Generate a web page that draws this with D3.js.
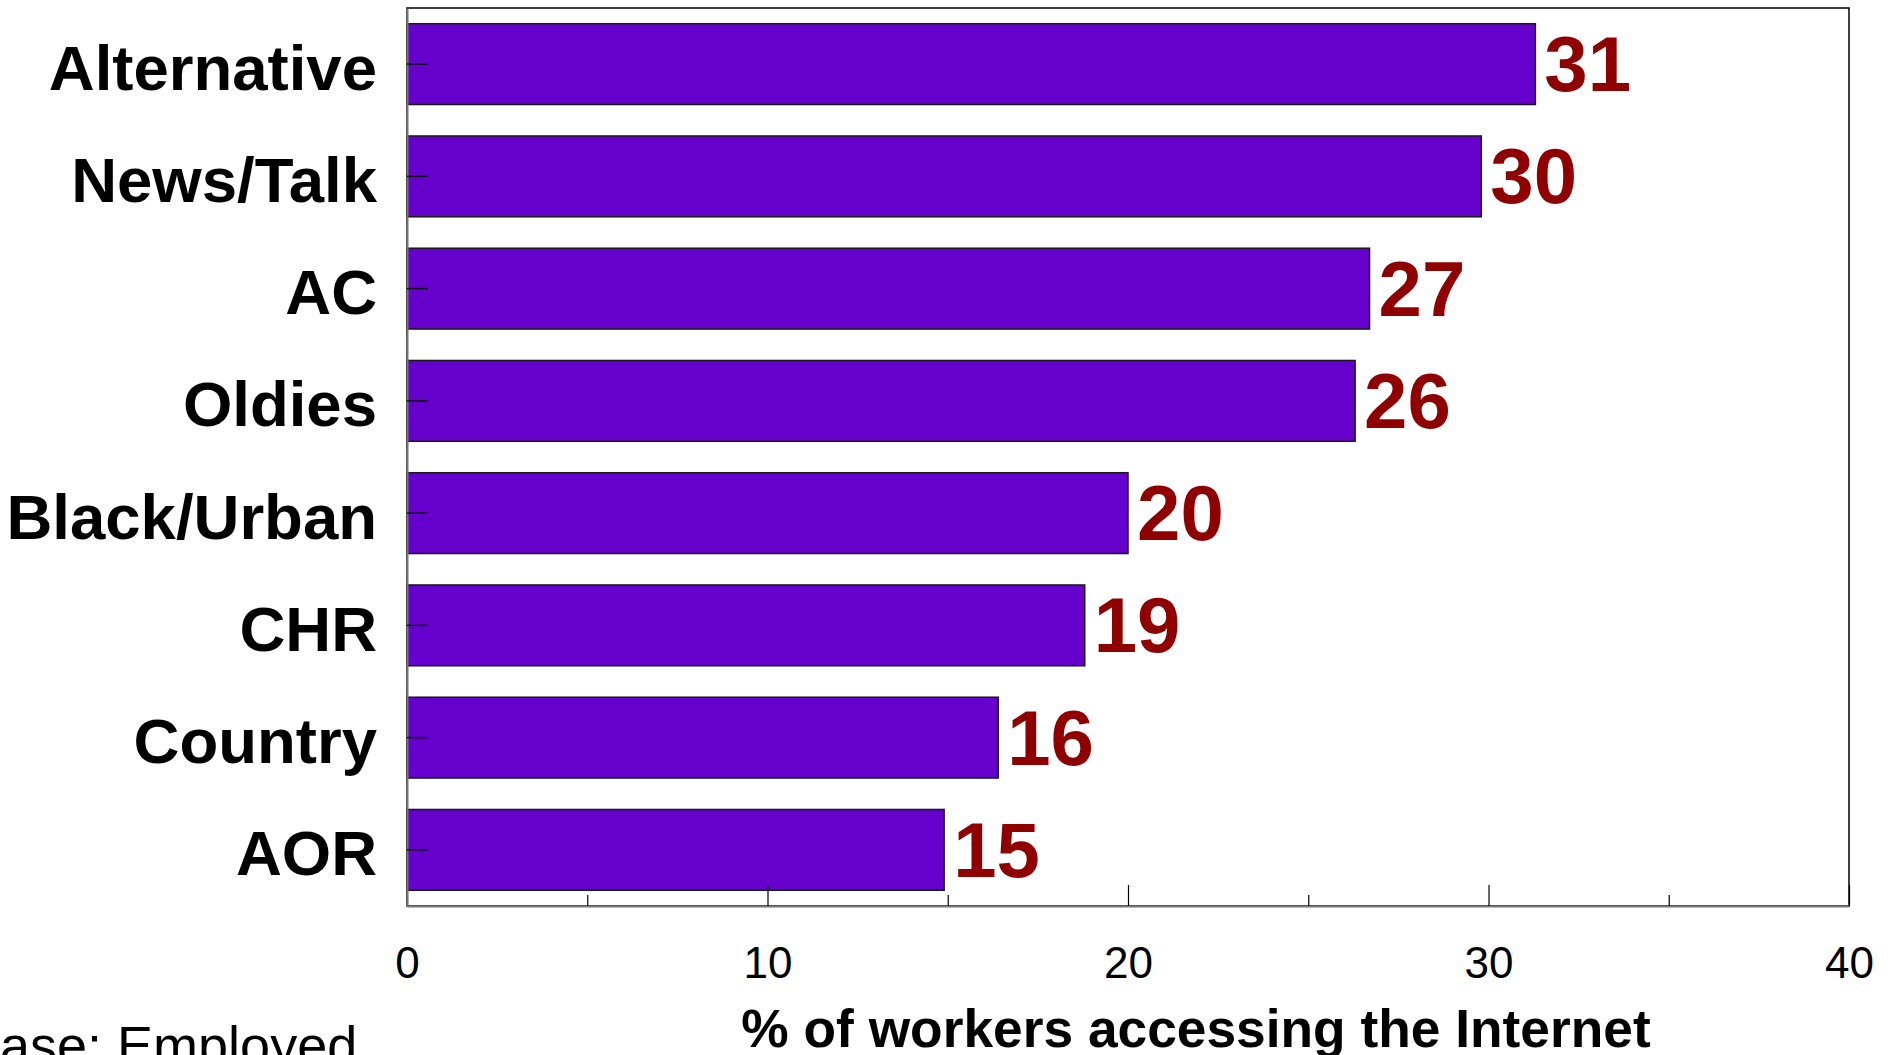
<!DOCTYPE html>
<html>
<head>
<meta charset="utf-8">
<script src="https://cdn.jsdelivr.net/npm/d3@7/dist/d3.min.js"></script>
<style>
  html, body { margin: 0; padding: 0; background: #ffffff; overflow: hidden; }
  svg { display: block; }
</style>
</head>
<body>
<script>
// Radio formats, share of workers accessing the Internet
const categories = ["Alternative", "News/Talk", "AC", "Oldies", "Black/Urban", "CHR", "Country", "AOR"];
const shares = [31.3, 29.8, 26.7, 26.3, 20.0, 18.8, 16.4, 14.9];
const xMajorTicks = [0, 10, 20, 30, 40];
const xMinorTicks = [5, 15, 25, 35];
const xTitle = "% of workers accessing the Internet";
const baseNote = "Base: Employed";

const W = 1895, H = 1055;
const plot = { left: 407, right: 1849, top: 8, bottom: 906 };
const FONT = "'Liberation Sans', Arial, Helvetica, sans-serif";

const rows = categories.map((c, i) => ({ cat: c, val: shares[i] }));

const svg = d3.select("body").append("svg")
  .attr("width", W).attr("height", H);

svg.append("rect").attr("width", W).attr("height", H).attr("fill", "#ffffff");

const x = d3.scaleLinear().domain([0, 40]).range([plot.left, plot.right]);
const y = d3.scaleBand().domain(categories).range([plot.top, plot.bottom])
  .paddingInner(0.28).paddingOuter(0.14);

// plot frame
svg.append("rect")
  .attr("x", plot.left).attr("y", plot.top)
  .attr("width", plot.right - plot.left).attr("height", plot.bottom - plot.top)
  .attr("fill", "none").attr("stroke", "#000").attr("stroke-width", 1.5);

// bars
svg.append("g").selectAll("rect").data(rows).join("rect")
  .attr("x", x(0))
  .attr("y", d => y(d.cat))
  .attr("width", d => x(d.val) - x(0))
  .attr("height", y.bandwidth())
  .attr("fill", "#6600cc")
  .attr("stroke", "#1a1a1a")
  .attr("stroke-width", 1.5);

// value labels
const fmt = d3.format(".0f");
svg.append("g").selectAll("text").data(rows).join("text")
  .attr("x", d => x(d.val) + 9)
  .attr("y", d => y(d.cat) + y.bandwidth() / 2 + 27)
  .attr("font-family", FONT).attr("font-weight", "bold")
  .attr("font-size", 78).attr("fill", "#8f0000")
  .text(d => fmt(d.val));

// x axis, major ticks pointing inward
const xAxis = svg.append("g")
  .attr("transform", `translate(0,${plot.bottom})`)
  .call(d3.axisBottom(x).tickValues(xMajorTicks).tickSizeInner(-21).tickSizeOuter(0).tickPadding(41));
xAxis.select(".domain").attr("stroke", "#777").attr("stroke-width", 2);
xAxis.selectAll(".tick line").attr("stroke", "#000").attr("stroke-width", 1.2);
xAxis.selectAll("text").attr("font-family", FONT).attr("font-size", 44).attr("fill", "#000");

// x axis, minor ticks
const xMinor = svg.append("g")
  .attr("transform", `translate(0,${plot.bottom})`)
  .call(d3.axisBottom(x).tickValues(xMinorTicks).tickSizeInner(-11).tickSizeOuter(0).tickFormat(""));
xMinor.select(".domain").remove();
xMinor.selectAll(".tick line").attr("stroke", "#000").attr("stroke-width", 1.2);

// y axis with category labels
const yAxis = svg.append("g")
  .attr("transform", `translate(${plot.left},0)`)
  .call(d3.axisLeft(y).tickSizeInner(-21).tickSizeOuter(0).tickPadding(30));
yAxis.select(".domain").attr("stroke", "#777").attr("stroke-width", 2);
yAxis.selectAll(".tick line").attr("stroke", "#111").attr("stroke-width", 1.5);
yAxis.selectAll("text")
  .attr("font-family", FONT).attr("font-weight", "bold")
  .attr("font-size", 63.5).attr("fill", "#000").attr("dy", "0.4em");

// axis title
svg.append("text")
  .attr("x", 1196).attr("y", 1047)
  .attr("text-anchor", "middle")
  .attr("font-family", FONT).attr("font-weight", "bold").attr("font-size", 53.3)
  .attr("fill", "#000")
  .text(xTitle);

// base note
svg.append("text")
  .attr("x", -36).attr("y", 1064)
  .attr("font-family", FONT).attr("font-size", 54).attr("fill", "#000")
  .text(baseNote);
</script>
</body>
</html>
